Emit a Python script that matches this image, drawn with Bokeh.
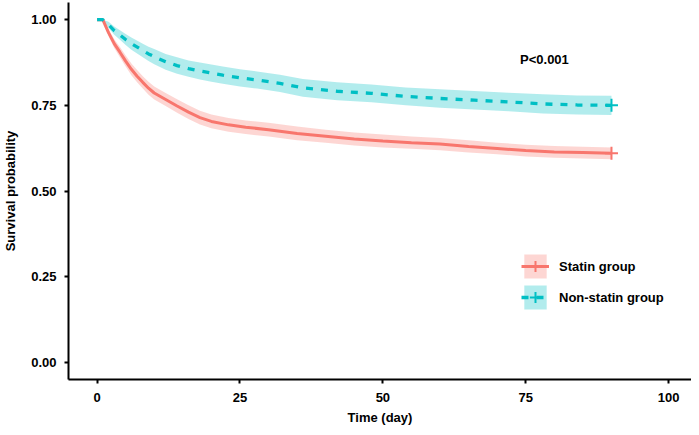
from bokeh.plotting import figure
from bokeh.models import (ColumnDataSource, Legend, LegendItem, FixedTicker,
                          NumeralTickFormatter, Range1d)
from bokeh.embed import file_html
from bokeh.resources import INLINE
from bokeh.core.properties import value

# ---------------- data ----------------
statin_t = [0, 1, 2, 3, 4, 5, 6, 7, 8, 9, 10, 12, 14, 16, 18, 20, 23, 26, 30,
            35, 40, 45, 50, 55, 60, 65, 70, 75, 80, 85, 90]
statin_s = [1.0, 1.0, 0.962, 0.930, 0.905, 0.879, 0.855, 0.835, 0.817, 0.800,
            0.786, 0.767, 0.748, 0.730, 0.714, 0.703, 0.693, 0.686, 0.679,
            0.668, 0.660, 0.652, 0.646, 0.641, 0.637, 0.630, 0.624, 0.618,
            0.614, 0.612, 0.610]
statin_ci = [0.0, 0.004, 0.010, 0.013, 0.015, 0.016, 0.017, 0.018, 0.018,
             0.019, 0.019, 0.019, 0.020, 0.020, 0.020, 0.020, 0.020, 0.020,
             0.020, 0.020, 0.019, 0.019, 0.019, 0.018, 0.018, 0.018, 0.017,
             0.017, 0.017, 0.017, 0.017]

nonstatin_t = [0, 1, 2, 3, 4, 5, 6, 8, 9, 10, 12, 14, 16, 18, 20, 22, 25, 28,
               32, 36, 42, 48, 54, 60, 66, 72, 78, 84, 90]
nonstatin_s = [1.0, 1.0, 0.985, 0.968, 0.955, 0.942, 0.930, 0.910, 0.900,
               0.892, 0.877, 0.866, 0.857, 0.850, 0.844, 0.838, 0.830, 0.824,
               0.814, 0.801, 0.791, 0.785, 0.776, 0.770, 0.765, 0.760, 0.754,
               0.751, 0.750]
nonstatin_ci = [0.0, 0.004, 0.009, 0.012, 0.014, 0.016, 0.018, 0.020, 0.021,
                0.022, 0.023, 0.024, 0.024, 0.025, 0.025, 0.025, 0.025, 0.025,
                0.025, 0.026, 0.026, 0.026, 0.026, 0.027, 0.027, 0.027, 0.028,
                0.028, 0.028]

group_labels = ["Statin group", "Non-statin group"]
group_colors = ["#F8766D", "#00BFC4"]
censor_t = [90, 90]
censor_s = [0.610, 0.750]
pval_text = "P<0.001"
x_ticks = [0, 25, 50, 75, 100]
y_ticks = [0.0, 0.25, 0.50, 0.75, 1.0]

FONT = "Liberation Sans"

p = figure(width=691, height=427, output_backend="svg", toolbar_location=None,
           x_range=Range1d(-5, 104), y_range=Range1d(-0.05, 1.05),
           min_border_left=67, min_border_right=0, min_border_top=2,
           min_border_bottom=48)
p.outline_line_color = None
p.xgrid.visible = False
p.ygrid.visible = False
p.background_fill_color = "white"

def band(t, s, ci):
    lo = [a - c for a, c in zip(s, ci)]
    hi = [min(1.0, a + c) for a, c in zip(s, ci)]
    return ColumnDataSource(dict(t=t, s=s, lo=lo, hi=hi))

src_a = band(statin_t, statin_s, statin_ci)
src_b = band(nonstatin_t, nonstatin_s, nonstatin_ci)

ba = p.varea(x="t", y1="lo", y2="hi", source=src_a, fill_color=group_colors[0],
             fill_alpha=0.3)
bb = p.varea(x="t", y1="lo", y2="hi", source=src_b, fill_color=group_colors[1],
             fill_alpha=0.3)
la = p.line(x="t", y="s", source=src_a, line_color=group_colors[0],
            line_width=3)
lb = p.line(x="t", y="s", source=src_b, line_color=group_colors[1],
            line_width=3.3, line_dash="7 8")
ca = p.scatter(x=[censor_t[0]], y=[censor_s[0]], marker="cross", size=13,
               line_color=group_colors[0], line_width=2)
cb = p.scatter(x=[censor_t[1]], y=[censor_s[1]], marker="cross", size=13,
               line_color=group_colors[1], line_width=2)

p.text(x=[74], y=[0.885], text=[pval_text], text_font=value(FONT),
       text_font_style="bold", text_font_size="13px", text_color="black",
       text_baseline="middle", text_align="left")

legend = Legend(items=[LegendItem(label=group_labels[0], renderers=[ba, la, ca]),
                       LegendItem(label=group_labels[1], renderers=[bb, lb, cb])],
                location=(453, 67), orientation="vertical",
                glyph_width=28, glyph_height=30, spacing=1, padding=0,
                margin=0, label_standoff=10, border_line_alpha=0,
                background_fill_alpha=0,
                label_text_font=FONT, label_text_font_style="bold",
                label_text_font_size="13px", label_text_color="black")
p.add_layout(legend)

for ax in (p.xaxis[0], p.yaxis[0]):
    ax.axis_line_color = "black"
    ax.axis_line_width = 2
    ax.major_tick_line_color = "black"
    ax.major_tick_line_width = 2
    ax.major_tick_out = 4
    ax.major_tick_in = 0
    ax.minor_tick_line_color = None
    ax.major_label_text_font = FONT
    ax.major_label_text_font_style = "bold"
    ax.major_label_text_font_size = "13px"
    ax.major_label_text_color = "black"
    ax.axis_label_text_font = FONT
    ax.axis_label_text_font_style = "bold"
    ax.axis_label_text_font_size = "13px"
    ax.axis_label_text_color = "black"

p.xaxis.ticker = FixedTicker(ticks=x_ticks)
p.yaxis.ticker = FixedTicker(ticks=y_ticks)
p.yaxis.formatter = NumeralTickFormatter(format="0.00")
p.xaxis.axis_label = "Time (day)"
p.yaxis.axis_label = "Survival probability"
p.xaxis.major_label_standoff = 9
p.xaxis.axis_label_standoff = 5
p.yaxis.major_label_standoff = 8
p.yaxis.axis_label_standoff = 10

open("out.html", "w").write(file_html(p, INLINE))
